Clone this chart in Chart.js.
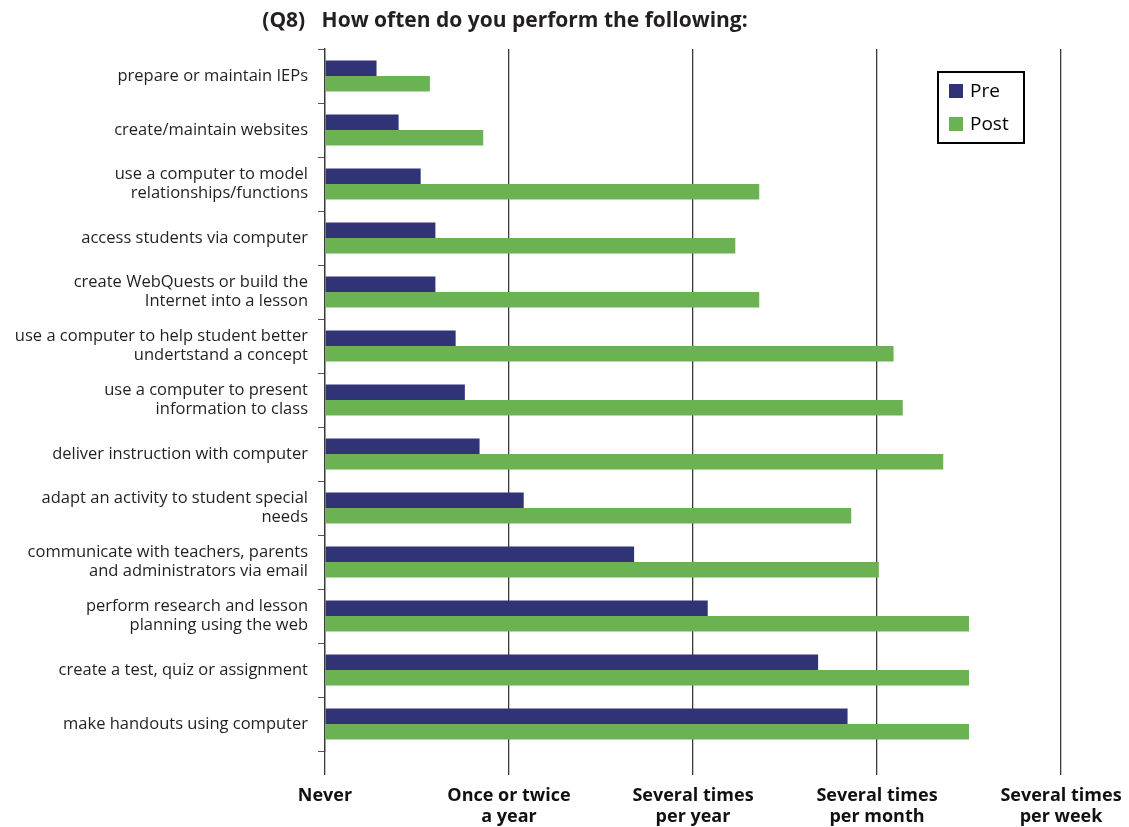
<!DOCTYPE html>
<html>
<head>
<meta charset="utf-8">
<script src="https://cdn.jsdelivr.net/npm/chart.js@4/dist/chart.umd.min.js"></script>
<style>
  html, body { margin: 0; padding: 0; background: #ffffff; }
  #wrap { width: 1129px; height: 827px; position: relative; }
</style>
</head>
<body>
<div id="wrap"><canvas id="c" width="1129" height="827"></canvas></div>
<script>
const chartTitle = "(Q8)   How often do you perform the following:";

const categories = [
  "prepare or maintain IEPs",
  "create/maintain websites",
  ["use a computer to model", "relationships/functions"],
  "access students via computer",
  ["create WebQuests or build the", "Internet into a lesson"],
  ["use a computer to help student better", "undertstand a concept"],
  ["use a computer to present", "information to class"],
  "deliver instruction with computer",
  ["adapt an activity to student special", "needs"],
  ["communicate with teachers, parents", "and administrators via email"],
  ["perform research and lesson", "planning using the web"],
  "create a test, quiz or assignment",
  "make handouts using computer"
];

const preValues  = [0.28, 0.40, 0.52, 0.60, 0.60, 0.71, 0.76, 0.84, 1.08, 1.68, 2.08, 2.68, 2.84];
const postValues = [0.57, 0.86, 2.36, 2.23, 2.36, 3.09, 3.14, 3.36, 2.86, 3.01, 3.50, 3.50, 3.50];

const frequencyLabels = [
  ["Never"],
  ["Once or twice", "a year"],
  ["Several times", "per year"],
  ["Several times", "per month"],
  ["Several times", "per week"]
];

const seriesNames = ["Pre", "Post"];
const seriesColors = ["#303376", "#6BB352"];

const FONT = "'Open Sans', 'DejaVu Sans', sans-serif";
const TEXT = "#231F20";

const titlePlugin = {
  id: 'customTitle',
  afterDraw(chart) {
    const ctx = chart.ctx;
    ctx.save();
    ctx.font = "bold 21px " + FONT;
    ctx.fillStyle = TEXT;
    ctx.textAlign = "center";
    ctx.textBaseline = "middle";
    ctx.fillText(chartTitle, 505, 21);
    ctx.restore();
  }
};

const legendPlugin = {
  id: 'boxLegend',
  afterDraw(chart) {
    const ctx = chart.ctx;
    const x0 = 938, y0 = 72, w = 86, h = 71;
    ctx.save();
    ctx.fillStyle = "#ffffff";
    ctx.fillRect(x0, y0, w, h);
    ctx.strokeStyle = "#000000";
    ctx.lineWidth = 2;
    ctx.strokeRect(x0, y0, w, h);
    ctx.font = "19px " + FONT;
    ctx.textBaseline = "middle";
    ctx.textAlign = "left";
    chart.data.datasets.forEach((ds, i) => {
      const cy = 91 + i * 33;
      ctx.fillStyle = ds.backgroundColor;
      ctx.fillRect(949, cy - 7, 14, 14);
      ctx.fillStyle = "#000000";
      ctx.fillText(ds.label, 970, cy + 1);
    });
    ctx.restore();
  }
};

new Chart(document.getElementById('c'), {
  type: 'bar',
  data: {
    labels: categories,
    datasets: [
      { label: seriesNames[0], data: preValues, backgroundColor: seriesColors[0],
        borderWidth: 0, categoryPercentage: 0.575, barPercentage: 1.0 },
      { label: seriesNames[1], data: postValues, backgroundColor: seriesColors[1],
        borderWidth: 0, categoryPercentage: 0.575, barPercentage: 1.0 }
    ]
  },
  options: {
    indexAxis: 'y',
    responsive: false,
    animation: false,
    devicePixelRatio: 1,
    layout: { padding: { top: 49, right: 68, left: 0, bottom: 0 } },
    plugins: {
      legend: { display: false },
      title: { display: false },
      tooltip: { enabled: false }
    },
    scales: {
      x: {
        type: 'linear',
        min: 0,
        max: 4,
        afterFit(scale) { scale.height = 76; scale.paddingLeft = 0; scale.paddingRight = 0; },
        border: { display: false },
        grid: {
          color: "#3a3a3a",
          lineWidth: 1.3,
          drawTicks: true,
          tickLength: 24,
          drawOnChartArea: true
        },
        ticks: {
          stepSize: 1,
          padding: 11,
          maxRotation: 0,
          autoSkip: false,
          color: "#111111",
          font: { family: FONT, size: 18, weight: 'bold', lineHeight: 1.15 },
          callback: (v) => frequencyLabels[v] || ""
        }
      },
      y: {
        type: 'category',
        afterFit(scale) { scale.width = 325; scale.paddingTop = 0; scale.paddingBottom = 0; },
        border: { display: true, color: "#3a3a3a", width: 1.3 },
        grid: {
          offset: true,
          drawOnChartArea: false,
          drawTicks: true,
          tickLength: 7,
          color: "#555555"
        },
        ticks: {
          padding: 10,
          autoSkip: false,
          color: TEXT,
          font: { family: FONT, size: 16.5, lineHeight: 1.15 }
        }
      }
    }
  },
  plugins: [titlePlugin, legendPlugin]
});
</script>
</body>
</html>
